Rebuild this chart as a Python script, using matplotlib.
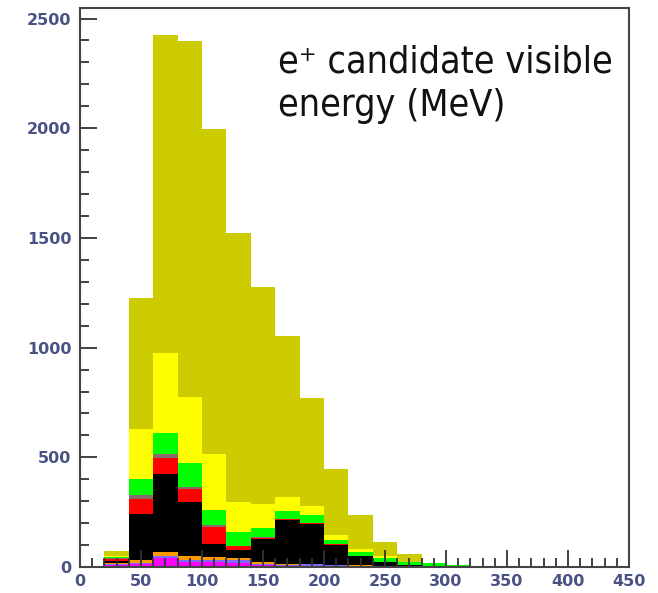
import numpy as np
import matplotlib
matplotlib.use("Agg")
import matplotlib.pyplot as plt
from matplotlib import font_manager as fm

# 20 MeV bins from 20 to 320 MeV
bin_edges = [20, 40, 60, 80, 100, 120, 140, 160, 180, 200, 220, 240, 260, 280, 300, 320]

# Per-component counts, stacked bottom to top
magenta = [8, 16, 39, 23, 23, 19, 11, 4, 6, 5, 0, 0, 0, 0, 0]
purple = [8, 2, 10, 11, 11, 12, 5, 4, 6, 5, 0, 0, 0, 0, 0]
orange = [1, 16, 20, 15, 12, 8, 7, 8, 0, 0, 10, 6, 4, 0, 0]
black = [11, 207, 357, 248, 61, 37, 104, 197, 185, 92, 39, 17, 4, 3, 0]
red = [10, 68, 73, 58, 76, 19, 7, 5, 4, 2, 1, 1, 0, 0, 0]
grey = [2, 18, 18, 10, 7, 2, 1, 1, 1, 1, 1, 1, 1, 0, 0]
green = [4, 72, 96, 109, 72, 63, 45, 37, 34, 20, 18, 18, 14, 17, 8]
yellow = [4, 229, 363, 301, 255, 137, 109, 64, 41, 20, 15, 6, 2, 0, 0]
olive = [24, 597, 1449, 1622, 1478, 1224, 986, 732, 493, 304, 152, 66, 33, 0, 0]

layers = [(magenta, "#ff00ff"), (purple, "#7f66ff"), (orange, "#ff9900"),
          (black, "#000000"), (red, "#ff0000"), (grey, "#8a6a6a"),
          (green, "#00ff00"), (yellow, "#ffff00"), (olive, "#cccc00")]

fig = plt.figure(figsize=(6.58, 5.93), dpi=100)
ax = fig.add_axes([0.1216, 0.0438, 0.8344, 0.942])

edges = np.array(bin_edges, dtype=float)
left = edges[:-1]
width = np.diff(edges)
bottom = np.zeros(len(left))

for vals, col in layers:
    v = np.array(vals, dtype=float)
    mask = v > 0
    ax.bar(left[mask], v[mask], width=width[mask], bottom=bottom[mask],
           align="edge", color=col, linewidth=0, zorder=1)
    bottom += v

ax.set_xlim(0, 450)
ax.set_ylim(0, 2546)
ax.set_xticks(np.arange(0, 451, 50))
ax.set_xticks(np.arange(0, 451, 10), minor=True)
ax.set_yticks(np.arange(0, 2501, 500))
ax.set_yticks(np.arange(0, 2501, 100), minor=True)

lab_col = "#4a5285"
ax.tick_params(which="major", direction="in", length=12, width=1.3,
               color="#333333", labelsize=11.5, labelcolor=lab_col, pad=6)
ax.tick_params(which="minor", direction="in", length=6.5, width=1.3,
               color="#333333")
ax.tick_params(axis="x", which="major", pad=5)
for lbl in ax.get_xticklabels() + ax.get_yticklabels():
    lbl.set_fontweight("bold")
for s in ax.spines.values():
    s.set_color("#444444")
    s.set_linewidth(1.5)

# pick a narrow face for the annotation if one is available
title_kw = dict(family=["Roboto", "DejaVu Sans"], fontsize=26)
cond = fm.FontProperties(family="DejaVu Sans", stretch="condensed")
if "Condensed" in fm.findfont(cond, fallback_to_default=False):
    title_kw = dict(family=["DejaVu Sans"], fontstretch="condensed", fontsize=27)

fig.text(0.4225, 0.8774, "e\u207a candidate visible", ha="left", va="baseline",
         color="#111111", **title_kw)
fig.text(0.4225, 0.8044, "energy (MeV)", ha="left", va="baseline",
         color="#111111", **title_kw)

fig.savefig("out.png", dpi=100)
